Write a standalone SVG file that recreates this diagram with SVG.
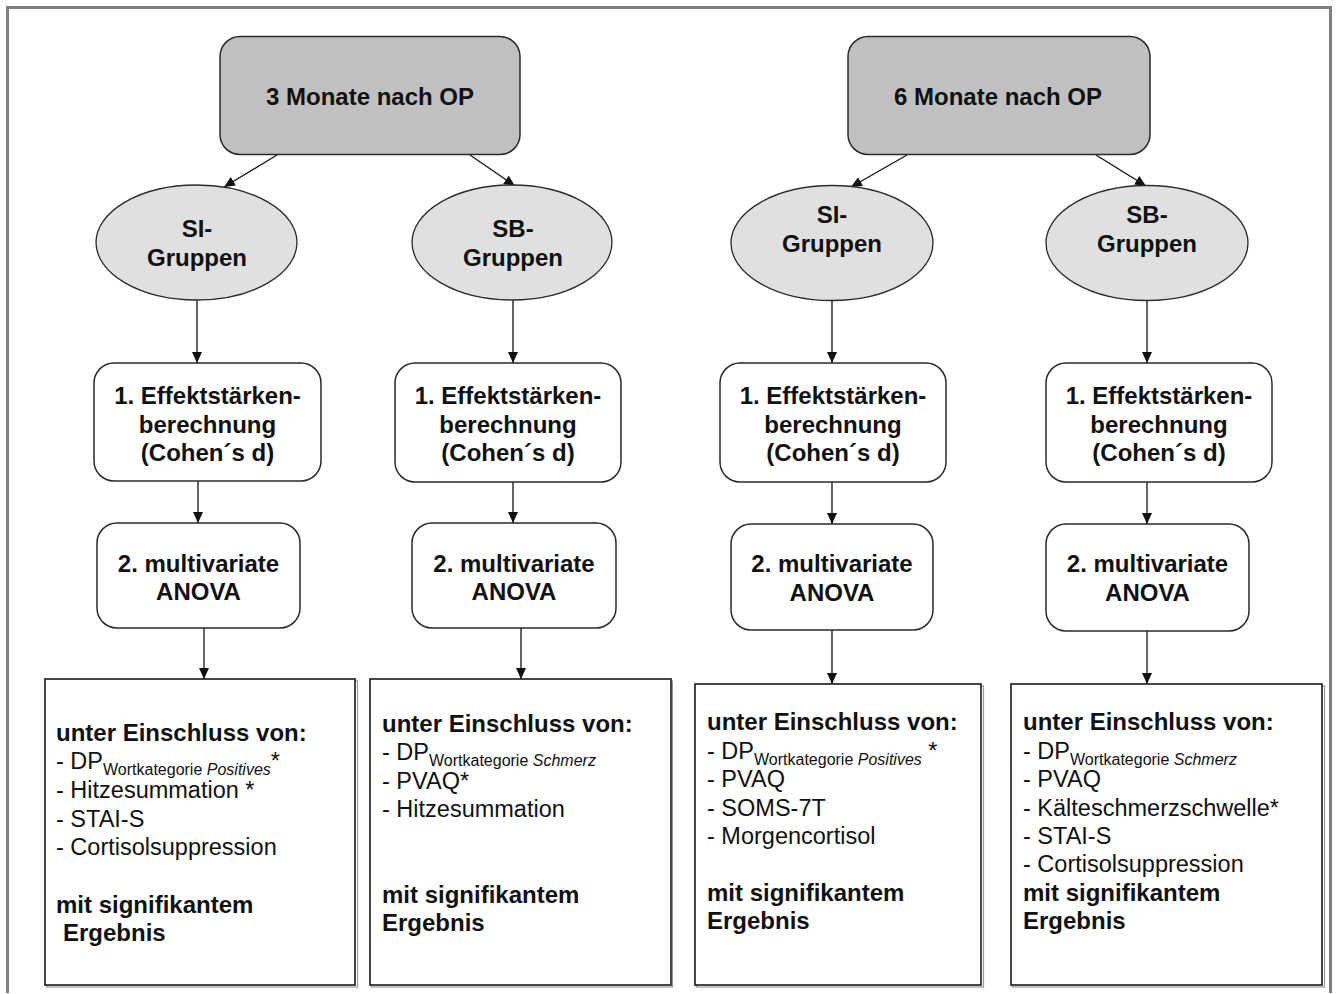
<svg xmlns="http://www.w3.org/2000/svg" width="1338" height="994" viewBox="0 0 1338 994">
  <style>
    text { font-family: "Liberation Sans", Arial, sans-serif; fill: #111; }
    .b { font-weight: bold; font-size: 24px; }
    .c { text-anchor: middle; }
    .r { font-size: 23.5px; }
    .sub { font-size: 16px; }
    .it { font-style: italic; }
    .head { fill: #c0c0c0; stroke: #2a2a2a; stroke-width: 1.5; }
    .grp { fill: #e0e0e0; stroke: #2a2a2a; stroke-width: 1.3; }
    .step { fill: #ffffff; stroke: #2a2a2a; stroke-width: 1.5; }
    .res { fill: #ffffff; stroke: #1a1a1a; stroke-width: 1.6; }
    .shadow { fill: none; stroke: #999; stroke-width: 1.2; }
    .conn line { stroke: #111; stroke-width: 1.3; marker-end: url(#arrow); }
  </style>
  <defs>
    <marker id="arrow" markerWidth="11" markerHeight="10" refX="11" refY="5" orient="auto" markerUnits="userSpaceOnUse">
      <path d="M0,0 L11,5 L0,10 z" fill="#111"/>
    </marker>
  </defs>

  <rect x="0" y="0" width="1338" height="994" fill="#ffffff"/>
  <!-- outer frame -->
  <path d="M7.5,993 V7.5 H1330.5 V993" fill="none" stroke="#808080" stroke-width="3"/>

  <!-- connectors -->
  <g id="connectors" class="conn">
    <line x1="277" y1="155" x2="224" y2="187"/>
    <line x1="470" y1="155" x2="515" y2="186"/>
    <line x1="907" y1="155" x2="851" y2="187"/>
    <line x1="1096" y1="155" x2="1146" y2="186"/>

    <line x1="197" y1="300" x2="197" y2="363"/>
    <line x1="513" y1="300" x2="513" y2="363"/>
    <line x1="832" y1="300" x2="832" y2="363"/>
    <line x1="1147" y1="300" x2="1147" y2="363"/>

    <line x1="198" y1="480" x2="198" y2="523"/>
    <line x1="513" y1="482" x2="513" y2="523"/>
    <line x1="832" y1="482" x2="832" y2="524"/>
    <line x1="1147" y1="482" x2="1147" y2="524"/>

    <line x1="204" y1="628" x2="204" y2="679"/>
    <line x1="521" y1="628" x2="521" y2="679"/>
    <line x1="832" y1="629" x2="832" y2="684"/>
    <line x1="1147" y1="631" x2="1147" y2="684"/>
  </g>

  <!-- time points -->
  <g id="node-3monate">
    <rect class="head" x="220" y="36.5" width="300" height="118" rx="20"/>
    <text class="b c" x="370" y="105">3 Monate nach OP</text>
  </g>
  <g id="node-6monate">
    <rect class="head" x="848" y="36.5" width="302" height="118" rx="20"/>
    <text class="b c" x="998" y="105">6 Monate nach OP</text>
  </g>

  <!-- groups -->
  <g id="node-si-3">
    <ellipse class="grp" cx="196.5" cy="242.5" rx="100.5" ry="57.5"/>
    <text class="b c" x="197" y="237">SI-</text>
    <text class="b c" x="197" y="266">Gruppen</text>
  </g>
  <g id="node-sb-3">
    <ellipse class="grp" cx="512" cy="242.5" rx="100" ry="57.5"/>
    <text class="b c" x="513" y="237">SB-</text>
    <text class="b c" x="513" y="266">Gruppen</text>
  </g>
  <g id="node-si-6">
    <ellipse class="grp" cx="832" cy="243" rx="101" ry="57.5"/>
    <text class="b c" x="832" y="223">SI-</text>
    <text class="b c" x="832" y="252">Gruppen</text>
  </g>
  <g id="node-sb-6">
    <ellipse class="grp" cx="1147" cy="243" rx="101" ry="57.5"/>
    <text class="b c" x="1147" y="223">SB-</text>
    <text class="b c" x="1147" y="252">Gruppen</text>
  </g>

  <!-- step 1: effect sizes -->
  <g id="node-effekt-si-3">
    <rect class="step" x="94" y="363" width="227" height="118" rx="20"/>
    <text class="b c" x="207.5" y="404">1. Effektstärken-</text>
    <text class="b c" x="207.5" y="433">berechnung</text>
    <text class="b c" x="207.5" y="461">(Cohen´s d)</text>
  </g>
  <g id="node-effekt-sb-3">
    <rect class="step" x="395" y="363" width="226" height="119" rx="20"/>
    <text class="b c" x="508" y="404">1. Effektstärken-</text>
    <text class="b c" x="508" y="433">berechnung</text>
    <text class="b c" x="508" y="461">(Cohen´s d)</text>
  </g>
  <g id="node-effekt-si-6">
    <rect class="step" x="720" y="363" width="226" height="119" rx="20"/>
    <text class="b c" x="833" y="404">1. Effektstärken-</text>
    <text class="b c" x="833" y="433">berechnung</text>
    <text class="b c" x="833" y="461">(Cohen´s d)</text>
  </g>
  <g id="node-effekt-sb-6">
    <rect class="step" x="1046" y="363" width="226" height="119" rx="20"/>
    <text class="b c" x="1159" y="404">1. Effektstärken-</text>
    <text class="b c" x="1159" y="433">berechnung</text>
    <text class="b c" x="1159" y="461">(Cohen´s d)</text>
  </g>

  <!-- step 2: MANOVA -->
  <g id="node-anova-si-3">
    <rect class="step" x="97" y="523" width="203" height="105" rx="20"/>
    <text class="b c" x="198.5" y="572">2. multivariate</text>
    <text class="b c" x="198.5" y="600">ANOVA</text>
  </g>
  <g id="node-anova-sb-3">
    <rect class="step" x="412" y="523" width="204" height="105" rx="20"/>
    <text class="b c" x="514" y="572">2. multivariate</text>
    <text class="b c" x="514" y="600">ANOVA</text>
  </g>
  <g id="node-anova-si-6">
    <rect class="step" x="731" y="524" width="202" height="106" rx="20"/>
    <text class="b c" x="832" y="572">2. multivariate</text>
    <text class="b c" x="832" y="601">ANOVA</text>
  </g>
  <g id="node-anova-sb-6">
    <rect class="step" x="1046" y="524" width="203" height="107" rx="20"/>
    <text class="b c" x="1147.5" y="572">2. multivariate</text>
    <text class="b c" x="1147.5" y="601">ANOVA</text>
  </g>

  <!-- results -->
  <g id="node-result-si-3">
    <rect class="shadow" x="46.5" y="681" width="311" height="306"/>
    <rect class="res" x="45" y="679" width="310" height="306"/>
    <text class="b" x="56" y="741">unter Einschluss von:</text>
    <text class="r" x="56" y="769">- DP<tspan class="sub" dy="6">Wortkategorie <tspan class="it">Positives</tspan></tspan><tspan dy="-6">*</tspan></text>
    <text class="r" x="56" y="798">- Hitzesummation *</text>
    <text class="r" x="56" y="827">- STAI-S</text>
    <text class="r" x="56" y="855">- Cortisolsuppression</text>
    <text class="b" x="56" y="913">mit signifikantem</text>
    <text class="b" x="63" y="941">Ergebnis</text>
  </g>
  <g id="node-result-sb-3">
    <rect class="shadow" x="371.5" y="681" width="301" height="306"/>
    <rect class="res" x="370" y="679" width="301" height="306"/>
    <text class="b" x="382" y="732">unter Einschluss von:</text>
    <text class="r" x="382" y="760">- DP<tspan class="sub" dy="6">Wortkategorie <tspan class="it">Schmerz</tspan></tspan></text>
    <text class="r" x="382" y="789">- PVAQ*</text>
    <text class="r" x="382" y="817">- Hitzesummation</text>
    <text class="b" x="382" y="903">mit signifikantem</text>
    <text class="b" x="382" y="931">Ergebnis</text>
  </g>
  <g id="node-result-si-6">
    <rect class="shadow" x="696.5" y="686" width="287" height="301"/>
    <rect class="res" x="695" y="684" width="286" height="301"/>
    <text class="b" x="707" y="730">unter Einschluss von:</text>
    <text class="r" x="707" y="759">- DP<tspan class="sub" dy="6">Wortkategorie <tspan class="it">Positives</tspan></tspan><tspan dy="-6"> *</tspan></text>
    <text class="r" x="707" y="787">- PVAQ</text>
    <text class="r" x="707" y="816">- SOMS-7T</text>
    <text class="r" x="707" y="844">- Morgencortisol</text>
    <text class="b" x="707" y="901">mit signifikantem</text>
    <text class="b" x="707" y="929">Ergebnis</text>
  </g>
  <g id="node-result-sb-6">
    <rect class="shadow" x="1012.5" y="686" width="312" height="301"/>
    <rect class="res" x="1011" y="684" width="311" height="301"/>
    <text class="b" x="1023" y="730">unter Einschluss von:</text>
    <text class="r" x="1023" y="759">- DP<tspan class="sub" dy="6">Wortkategorie <tspan class="it">Schmerz</tspan></tspan></text>
    <text class="r" x="1023" y="787">- PVAQ</text>
    <text class="r" x="1023" y="816">- Kälteschmerzschwelle*</text>
    <text class="r" x="1023" y="844">- STAI-S</text>
    <text class="r" x="1023" y="872">- Cortisolsuppression</text>
    <text class="b" x="1023" y="901">mit signifikantem</text>
    <text class="b" x="1023" y="929">Ergebnis</text>
  </g>
</svg>
